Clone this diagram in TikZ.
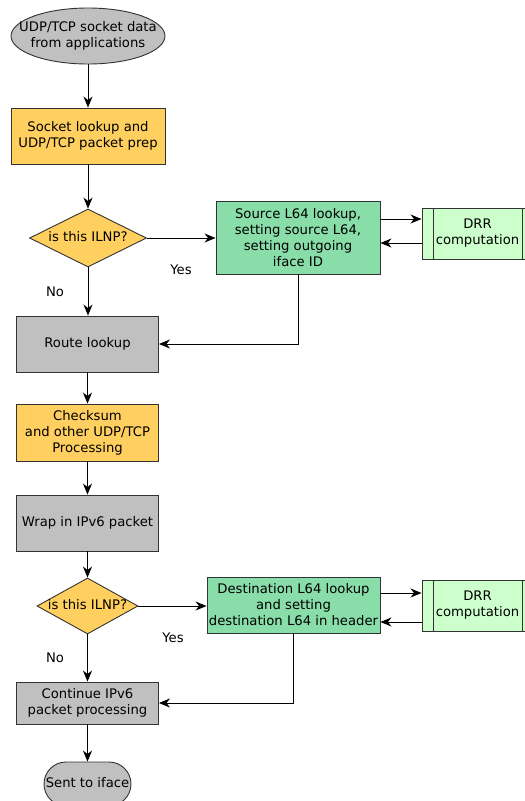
\documentclass[tikz,border=0pt]{standalone}
\usepackage{fontspec}
\setmainfont{DejaVu Sans}
\usetikzlibrary{arrows.meta,shapes.geometric}
\definecolor{grayfill}{HTML}{C0C0C0}
\definecolor{orangefill}{HTML}{FFD05F}
\definecolor{greenfill}{HTML}{88DDA8}
\definecolor{drrfill}{HTML}{CCFFCC}
\definecolor{edge}{HTML}{333333}
\newcommand{\ctext}[1]{\makebox[0pt]{\begin{tabular}{@{}c@{}}#1\end{tabular}}}
\tikzset{
  base/.style={draw=edge, line width=0.9pt, inner sep=0pt, align=center},
  procbox/.style={base, rectangle},
  decision/.style={base, diamond, fill=orangefill},
  flow/.style={draw=black, line width=0.9pt, -{Stealth[length=11pt,width=9pt,inset=3.5pt]}},
  lbl/.style={inner sep=0pt, align=center}
}
\begin{document}
\begin{tikzpicture}[x=1pt,y=-1pt,font=\fontsize{13.2}{16}\selectfont]
\useasboundingbox (0,0) rectangle (525,801);
\clip (0,0) rectangle (525,801);

% main column
\node[base, ellipse, fill=grayfill, minimum width=154pt, minimum height=56pt] (src) at (88,36)
  {\ctext{UDP/TCP socket data\\from applications}};
\node[procbox, fill=orangefill, minimum width=154pt, minimum height=56pt] (prep) at (88,136)
  {Socket lookup and\\UDP/TCP packet prep};
\node[decision, minimum width=117pt, minimum height=58pt] (q1) at (88,238)
  {\ctext{is this ILNP?}};
\node[procbox, fill=grayfill, minimum width=142pt, minimum height=56pt] (route) at (87.5,344)
  {Route lookup};
\node[procbox, fill=orangefill, minimum width=142pt, minimum height=57pt] (csum) at (87.5,432.5)
  {Checksum\\and other UDP/TCP\\Processing};
\node[procbox, fill=grayfill, minimum width=142pt, minimum height=56pt] (wrap) at (87.5,523)
  {Wrap in IPv6 packet};
\node[decision, minimum width=101pt, minimum height=56pt] (q2) at (87.5,606)
  {\ctext{is this ILNP?}};
\node[procbox, fill=grayfill, minimum width=142pt, minimum height=42pt] (cont) at (87.5,703)
  {Continue IPv6\\packet processing};
\node[base, rectangle, rounded corners=22pt, fill=grayfill, minimum width=87pt, minimum height=44pt] (out) at (87.5,784)
  {\ctext{Sent to iface}};

% ILNP side branches
\node[procbox, fill=greenfill, minimum width=164pt, minimum height=73pt] (src64) at (298,237.5)
  {Source L64 lookup,\\setting source L64,\\setting outgoing\\iface ID};
\node[procbox, fill=greenfill, minimum width=173pt, minimum height=56pt] (dst64) at (293.5,605)
  {Destination L64 lookup\\and setting\\destination L64 in header};

% predefined-process boxes for the DRR step
\node[procbox, fill=drrfill, minimum width=110pt, minimum height=51pt] (drr1) at (477,233.5) {};
\draw[edge, line width=0.9pt] (433,208) -- (433,259) (522,208) -- (522,259);
\node[lbl] (drr1t) at (477.5,233.5) {DRR\\computation};
\node[procbox, fill=drrfill, minimum width=110pt, minimum height=51pt] (drr2) at (477,605.5) {};
\draw[edge, line width=0.9pt] (433,580) -- (433,631) (522,580) -- (522,631);
\node[lbl] (drr2t) at (477.5,605.5) {DRR\\computation};

% connectors
\draw[flow] (src.south) -- (prep.north);
\draw[flow] (prep.south) -- (q1.north);
\draw[flow] (q1.south) -- (q1.south |- route.north);
\draw[flow] (q1.east) -- (src64.west |- q1.east);
\draw[flow] (src64.east |- {(0,219)}) -- (drr1.west |- {(0,219)});
\draw[flow] (drr1.west |- {(0,243)}) -- (src64.east |- {(0,243)});
\draw[flow] (src64.south) |- (route.east);
\draw[flow] (route.south) -- (csum.north);
\draw[flow] (csum.south) -- (wrap.north);
\draw[flow] (wrap.south) -- (q2.north);
\draw[flow] (q2.south) -- (cont.north);
\draw[flow] (q2.east) -- (dst64.west |- q2.east);
\draw[flow] (dst64.east |- {(0,593)}) -- (drr2.west |- {(0,593)});
\draw[flow] (drr2.west |- {(0,622)}) -- (dst64.east |- {(0,622)});
\draw[flow] (dst64.south) |- (cont.east);
\draw[flow] (cont.south) -- (out.north);

% branch labels
\node[lbl] (yes1) at (181,270) {Yes};
\node[lbl] (no1) at (55,292) {No};
\node[lbl] (yes2) at (173,638) {Yes};
\node[lbl] (no2) at (55,658) {No};
\end{tikzpicture}
\end{document}
